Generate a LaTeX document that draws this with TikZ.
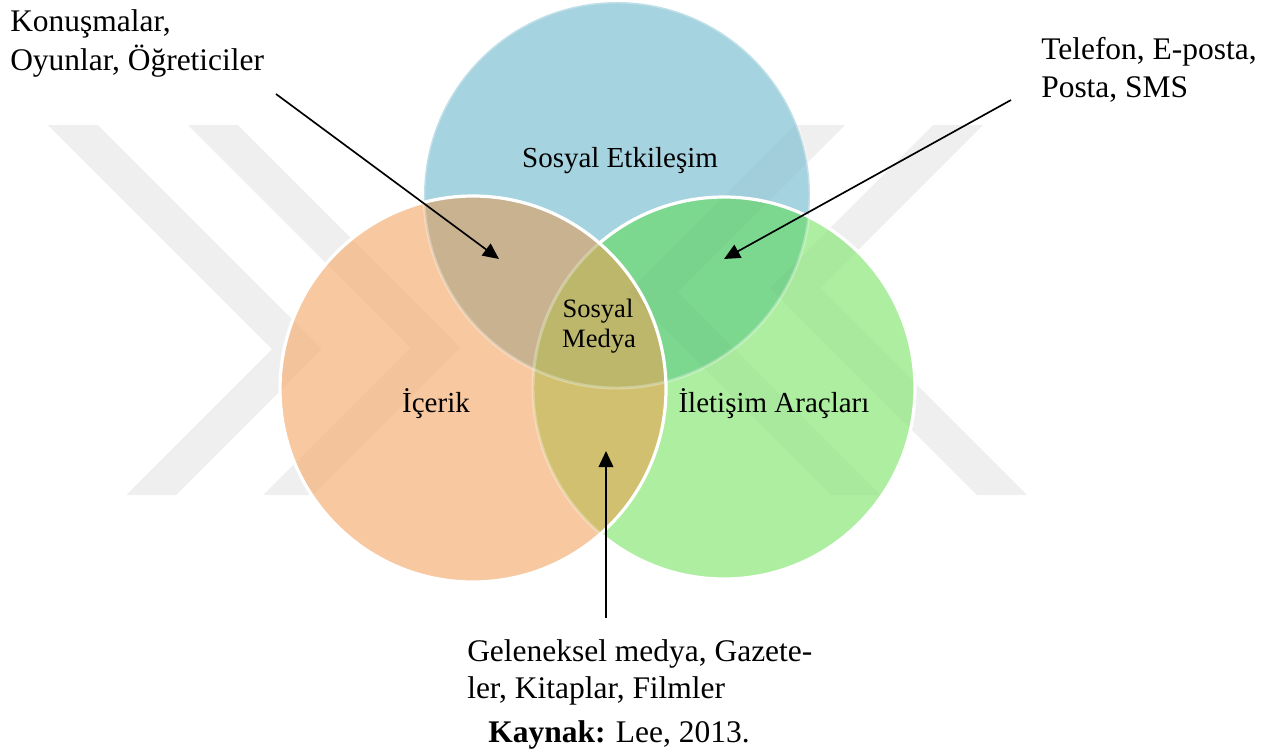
\documentclass[tikz,border=0pt]{standalone}
\usepackage{fontspec}
\setmainfont{Liberation Serif}
\usetikzlibrary{arrows.meta}

\definecolor{cBlue}{HTML}{A6D3E0}
\definecolor{cOrange}{HTML}{F8C8A0}
\definecolor{cGreen}{HTML}{ADEEA1}
\definecolor{cBO}{HTML}{C9B28F}
\definecolor{cBG}{HTML}{7DD88F}
\definecolor{cOG}{HTML}{D1C070}
\definecolor{cAll}{HTML}{BDB76C}

\tikzset{
  outer/.style={font=\fontsize{23.6}{28}\selectfont, inner sep=0pt, anchor=base west},
  inlabel/.style={font=\fontsize{21.75}{26}\selectfont, inner sep=0pt, anchor=base},
  core/.style={font=\fontsize{19.9}{24}\selectfont, inner sep=0pt, anchor=base},
  pointer/.style={line width=1.25pt, -{Triangle[length=12pt,width=11pt]}},
  rim/.style={draw=white, line width=2.4pt},
  faintrim/.style={draw=white, line width=2.2pt, draw opacity=0.3},
  band/.style={fill=black},
}

% light chevron bands of the page background
\newcommand{\chevronbands}[1]{%
  \fill[band, fill opacity=#1] (48,125) -- (98,125) -- (322,349) -- (176,495) -- (126,495) -- (272,349) -- cycle;
  \fill[band, fill opacity=#1] (188,125) -- (238,125) -- (460.5,347.5) -- (313,495) -- (263,495) -- (410.5,347.5) -- cycle;
  \fill[band, fill opacity=#1] (933,125) -- (983,125) -- (820,288) -- (1027,495) -- (977,495) -- (770,288) -- cycle;
  \fill[band, fill opacity=#1] (795,125) -- (845,125) -- (678,292) -- (881,495) -- (831,495) -- (628,292) -- cycle;
}

\def\rB{193}
\def\rO{193}
\def\rG{191}

\begin{document}
\begin{tikzpicture}[x=0.75pt, y=-0.75pt]
  \useasboundingbox[fill=white] (0,0) rectangle (1275,751);

  \coordinate (cb) at (617,195);
  \coordinate (co) at (473,389);
  \coordinate (cg) at (724,388);

  \chevronbands{0.045}

  % circle fills
  \fill[cBlue]   (cb) circle[radius=\rB];
  \fill[cGreen]  (cg) circle[radius=\rG];
  \fill[cOrange] (co) circle[radius=\rO];
  \begin{scope}
    \clip (co) circle[radius=\rO];
    \fill[cOG] (cg) circle[radius=\rG];
  \end{scope}
  \begin{scope}
    \clip (cb) circle[radius=\rB];
    \fill[cBO] (co) circle[radius=\rO];
    \fill[cBG] (cg) circle[radius=\rG];
    \clip (co) circle[radius=\rO];
    \fill[cAll] (cg) circle[radius=\rG];
  \end{scope}

  \chevronbands{0.02}

  % white rims
  \draw[faintrim] (cb) circle[radius=\rB];
  \begin{scope}[even odd rule]
    \clip (0,0) rectangle (1275,751) (co) circle[radius=\rO];
    \draw[rim] (cg) circle[radius=\rG];
  \end{scope}
  \begin{scope}
    \clip (co) circle[radius=\rO];
    \draw[faintrim] (cg) circle[radius=\rG];
  \end{scope}
  \draw[rim] (co) circle[radius=\rO];

  % labels inside the circles
  \node[inlabel] (se)  at (620,167) {Sosyal Etkileşim};
  \node[inlabel] (ic)  at (436,412) {İçerik};
  \node[inlabel] (ia)  at (774,412) {İletişim Araçları};
  \node[core]    (sm1) at (598,317) {Sosyal};
  \node[core]    (sm2) at (599,347) {Medya};

  % outer labels
  \node[outer] (k1) at (10,31)   {Konuşmalar,};
  \node[outer] (k2) at (10,70)   {Oyunlar, Öğreticiler};
  \node[outer] (t1) at (1041,59) {Telefon, E-posta,};
  \node[outer] (t2) at (1041,97) {Posta, SMS};
  \node[outer] (g1) at (467,661) {Geleneksel medya, Gazete-};
  \node[outer] (g2) at (467,698) {ler, Kitaplar, Filmler};
  \node[outer, anchor=base] (src) at (619,742) {\textbf{Kaynak:} Lee, 2013.};

  % pointers
  \coordinate (p1s) at (276,94);   \coordinate (p1e) at (499,259);
  \coordinate (p2s) at (1011,100); \coordinate (p2e) at (724,259);
  \coordinate (p3s) at (606,618);  \coordinate (p3e) at (606,451);
  \draw[pointer] (p1s) -- (p1e);
  \draw[pointer] (p2s) -- (p2e);
  \draw[pointer] (p3s) -- (p3e);
\end{tikzpicture}
\end{document}
